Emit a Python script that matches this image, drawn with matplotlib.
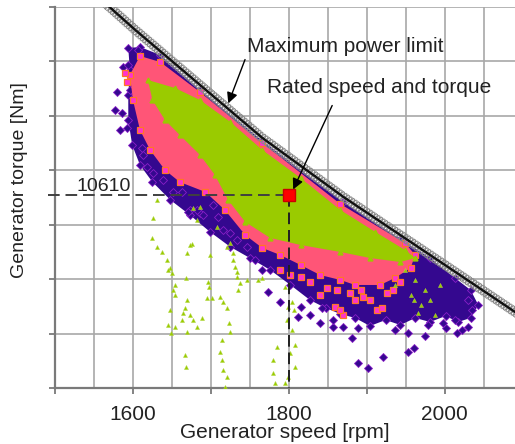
import matplotlib
matplotlib.use('Agg')
import matplotlib.pyplot as plt
import matplotlib.patheffects as pe
import numpy as np

plt.rcParams['font.family'] = ['Liberation Sans', 'DejaVu Sans']

# maximum power limit curve
limit_speed = [1560, 1567, 1603, 1686, 1766, 1870, 1981, 2090, 2110]
limit_torque = [14560, 14440, 13935, 12824, 11753, 10560, 9388, 8236, 8025]

# outline of dense purple cloud (diamonds)
purple_poly_speed = [1594, 1609, 1635, 1686, 1766, 1870, 1943, 1981, 2013, 2033, 2043, 2033,
                     2017, 2001, 1981, 1962, 1943, 1924, 1904, 1885, 1866, 1847, 1827, 1802,
                     1776, 1750, 1725, 1699, 1673, 1648, 1625, 1609, 1599, 1594, 1594, 1596]
purple_poly_torque = [13571, 13592, 13430, 12723, 11692, 10459, 9711, 9327, 8923, 8681, 8377, 8115,
                      8034, 8155, 8034, 8115, 7973, 8074, 7953, 8115, 8196, 8317, 8478, 8782,
                      9085, 9327, 9550, 9853, 10196, 10500, 10863, 11207, 11611, 12116, 12622, 13127]

# outline of orange/pink cloud (squares)
pink_poly_speed = [1609, 1635, 1686, 1766, 1866, 1949, 1962, 1956, 1936, 1917, 1885, 1866,
                   1840, 1815, 1789, 1766, 1744, 1718, 1693, 1660, 1641, 1622, 1609, 1600, 1596]
pink_poly_torque = [13410, 13288, 12680, 11651, 10419, 9630, 9388, 9125, 8923, 8782, 8782, 8883,
                    8984, 9186, 9388, 9529, 9792, 10297, 10661, 10863, 11106, 11510, 11914, 12520, 13026]

# outline of green core (triangles)
green_poly_speed = [1619, 1654, 1686, 1725, 1766, 1815, 1866, 1911, 1949, 1962, 1943, 1904,
                    1866, 1815, 1776, 1744, 1722, 1705, 1686, 1660, 1641, 1625]
green_poly_torque = [12925, 12763, 12520, 12076, 11510, 10944, 10297, 9853, 9489, 9327, 9246, 9327,
                     9449, 9590, 9732, 10055, 10500, 11005, 11409, 11813, 12116, 12520]

# scattered points outside the dense areas
purple_speed = [1607, 1587, 1594, 1580, 1596, 1577, 1586, 1583, 1592, 1612, 1613, 1618, 1626,
                1639, 1651, 1663, 1673, 1686, 1671, 1682, 1690, 1703, 1709, 1716, 1725, 1734,
                1746, 1757, 1766, 1812, 1840, 1856, 1881, 1888, 1901, 1921, 1953, 1960, 1975,
                2001, 2022, 2035, 2030, 1773, 1789, 1815, 1827, 1843, 1856, 1870, 1889, 1936,
                1953, 1979, 1998, 2013, 2016, 2030]
purple_torque = [13531, 13187, 13228, 12682, 12723, 12318, 12258, 11914, 11955, 11550, 11409, 11166, 11045,
                 10904, 10661, 10661, 10297, 10237, 10257, 10297, 10196, 10399, 10156, 9893, 9833, 9691,
                 9550, 9287, 9085, 8135, 8014, 7933, 7711, 7205, 7104, 7327, 7428, 7508, 7751,
                 7913, 7872, 8276, 8478, 8640, 8438, 8337, 8175, 8317, 8074, 7933, 7913, 7872,
                 7812, 7973, 8014, 8074, 7812, 7933]

pink_speed = [1870, 1859, 1913, 1895, 1919, 1590, 1592, 1866, 1904, 1892, 1879, 1862, 1849,
              1827, 1815, 1926, 1934, 1943, 1840, 1885, 1802, 1789]
pink_torque = [8175, 8337, 8276, 8539, 8317, 13066, 12884, 8276, 8478, 8681, 8620, 8681, 8721,
               8842, 8943, 8620, 8681, 8842, 8580, 8478, 8984, 9085]

green_speed = [1631, 1626, 1625, 1631, 1637, 1644, 1648, 1645, 1650, 1654, 1651, 1654, 1648, 1645,
               1649, 1654, 1663, 1664, 1667, 1669, 1668, 1676, 1669, 1673, 1673, 1677, 1682, 1689,
               1669, 1667, 1668, 1677, 1686, 1682, 1696, 1698, 1695, 1702, 1699, 1708, 1712, 1716,
               1721, 1723, 1725, 1714, 1712, 1714, 1716, 1721, 1718, 1721, 1725, 1728, 1731, 1734,
               1734, 1737, 1735, 1746, 1728, 1799, 1798, 1804, 1808, 1802, 1785, 1780, 1779, 1782,
               1795, 1799, 1808, 1795, 1761, 1766, 1804, 1806, 1949, 1962, 1975, 1981, 1969, 1988,
               1956, 1994, 1936, 1960, 1965]
green_torque = [10500, 10136, 9732, 9550, 9449, 9287, 9125, 9085, 9024, 8782, 8681, 8580, 8276, 7973,
                7812, 7933, 8074, 8216, 8317, 8478, 8923, 9610, 9428, 9590, 8175, 8074, 7933, 8115,
                7832, 7367, 7124, 10338, 10358, 10095, 8842, 8741, 8519, 8519, 9388, 9954, 8539, 8438,
                8317, 8014, 7832, 7670, 7428, 7266, 7064, 6922, 6720, 9550, 9630, 9287, 9145, 9044,
                8943, 8822, 8681, 8883, 9428, 8337, 8074, 7872, 7569, 7407, 7529, 7266, 7003, 6801,
                6801, 6922, 7124, 8741, 8883, 8923, 8438, 8276, 9085, 8883, 8681, 8478, 8377, 8175,
                8580, 8782, 8782, 8478, 8216]

rated_speed = 1800
rated_torque = 10610

y_grid = [6700, 7800, 8900, 10000, 11100, 12200, 13300, 14400]

purple_face, purple_edge = '#34088f', '#8a1fc8'
pink_face, pink_edge = '#ff33cc', '#ff7722'
green_face = '#9acb00'

fig = plt.figure(figsize=(5.15, 4.44), dpi=100)
ax = fig.add_axes([55 / 515, 56 / 444, 460 / 515, 381 / 444])

# clouds
ax.fill(purple_poly_speed, purple_poly_torque, color=purple_face, zorder=2, lw=0)
ax.plot(purple_poly_speed, purple_poly_torque, 'D', ms=4.5, mfc=purple_face, mec=purple_edge, mew=0.6, zorder=2)
ax.plot(purple_speed, purple_torque, 'D', ms=4.5, mfc=purple_face, mec=purple_edge, mew=0.6, zorder=2)

ax.fill(pink_poly_speed, pink_poly_torque, color='#ff5577', zorder=3, lw=0)
ax.plot(pink_poly_speed, pink_poly_torque, 's', ms=4, mfc=pink_face, mec=pink_edge, mew=0.9, zorder=3)
ax.plot(pink_speed, pink_torque, 's', ms=4, mfc=pink_face, mec=pink_edge, mew=0.9, zorder=3)

ax.fill(green_poly_speed, green_poly_torque, color=green_face, zorder=4, lw=0)
ax.plot(green_poly_speed, green_poly_torque, '^', ms=3.5, mfc=green_face, mec=green_face, zorder=4)
ax.plot(green_speed, green_torque, '^', ms=3, mfc=green_face, mec='#b5d94a', mew=0.3, zorder=4)

# max power limit line
hatch = dict(spacing=2.2, length=1.6, foreground='#8a8a8a', linewidth=0.9)
ax.plot(limit_speed, limit_torque, color='#111111', lw=1.2, zorder=6,
        path_effects=[pe.withTickedStroke(angle=60, **hatch),
                      pe.withTickedStroke(angle=-120, **hatch),
                      pe.withTickedStroke(angle=120, **hatch),
                      pe.withTickedStroke(angle=-60, **hatch),
                      pe.Normal()])

# rated point with dashed guides
ax.plot([1491, rated_speed], [rated_torque, rated_torque], ls=(0, (6, 3)), color='#404040', lw=1.4,
        zorder=7, clip_on=False)
ax.plot([rated_speed, rated_speed], [rated_torque, 6700], ls=(0, (6, 3)), color='#202020', lw=1.4, zorder=7)
ax.plot(rated_speed, rated_torque, 's', ms=8, mfc='#ff0000', mec='#cc0000', zorder=8)

ax.text(1527, 10690, '10610', fontsize=14, color='#222222', ha='left', va='baseline', zorder=9)

ax.text(1746, 13491, 'Maximum power limit', fontsize=15, color='#222222', ha='left', va='baseline', zorder=9)
ax.annotate('', xy=(1721, 12399), xytext=(1745, 13390),
            arrowprops=dict(arrowstyle='-|>', color='black', lw=1.0, mutation_scale=16), zorder=9)

ax.text(1772, 12662, 'Rated speed and torque', fontsize=15, color='#222222', ha='left', va='baseline', zorder=9)
ax.annotate('', xy=(1804, 10661), xytext=(1857, 12460),
            arrowprops=dict(arrowstyle='-|>', color='black', lw=1.0, mutation_scale=16), zorder=9)

# axes styling
ax.set_xlim(1500, 2090)
ax.set_ylim(6700, 14400)
ax.set_xticks(np.arange(1500, 2001, 100))
ax.set_xticklabels(['', '1600', '', '1800', '', '2000'])
ax.set_xticks(np.arange(1550, 2051, 100), minor=True)
ax.set_yticks(y_grid)
ax.set_yticklabels([])
ax.tick_params(which='major', direction='out', length=4, width=1.3, color='#7a7a7a',
               labelsize=15, labelcolor='#222222', pad=8)
ax.tick_params(which='minor', length=0)
ax.grid(True, which='both', color='#a8a8a8', lw=1.2)
ax.set_axisbelow(True)
for s in ['top', 'right']:
    ax.spines[s].set_visible(False)
for s in ['left', 'bottom']:
    ax.spines[s].set_color('#7a7a7a')
    ax.spines[s].set_linewidth(1.6)

fig.text(285 / 515, 1 - 432 / 444, 'Generator speed [rpm]', fontsize=15, color='#222222',
         ha='center', va='center')
fig.text(20 / 515, 1 - 180 / 444, 'Generator torque [Nm]', fontsize=14, color='#222222',
         ha='center', va='center', rotation=90)

fig.savefig('out.png', dpi=100)
